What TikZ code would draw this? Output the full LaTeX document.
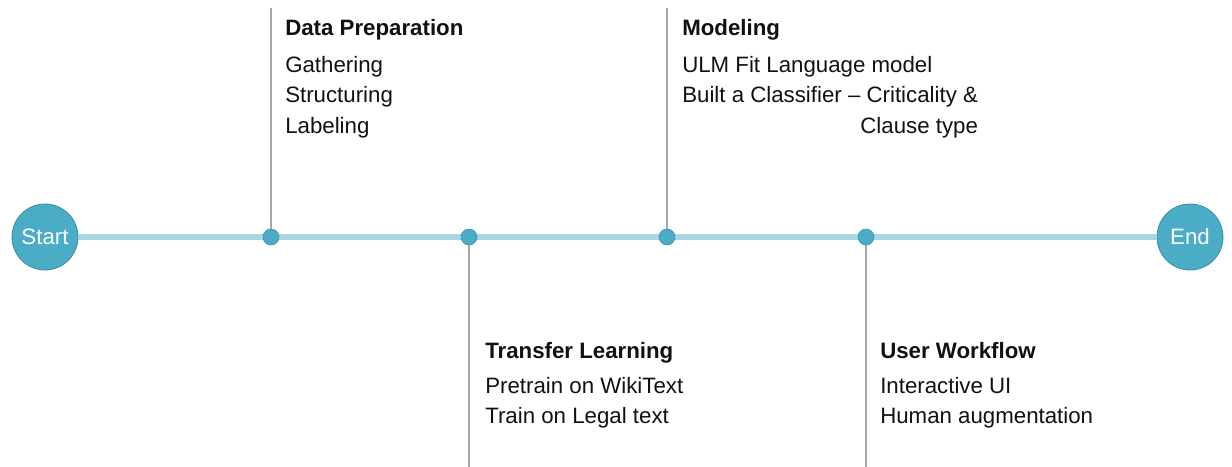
\documentclass[tikz,border=0pt]{standalone}
\usepackage{fontspec}
\setmainfont{Liberation Sans}
\definecolor{teal}{HTML}{4BACC6}
\definecolor{tealdark}{HTML}{3A8DA3}
\definecolor{tline}{HTML}{A9D6E2}
\definecolor{vgray}{HTML}{A6A6A6}
\definecolor{txt}{HTML}{111111}
\begin{document}
\begin{tikzpicture}[x=0.75pt,y=-0.75pt,
  endpt/.style={circle,fill=teal,draw=tealdark,line width=0.6pt,minimum size=49.5pt,inner sep=0pt,text=white,font=\fontsize{16.7}{20}\selectfont},
  dot/.style={circle,fill=teal,draw=tealdark,line width=0.4pt,minimum size=12pt,inner sep=0pt},
  stem/.style={draw=vgray,line width=1pt},
  mainline/.style={draw=tline,line width=3.8pt},
  title/.style={anchor=base west,inner sep=0pt,text=txt,font=\fontsize{16.7}{20}\selectfont\bfseries},
  item/.style={anchor=base west,inner sep=0pt,text=txt,font=\fontsize{16.7}{20}\selectfont},
  itemr/.style={anchor=base east,inner sep=0pt,text=txt,font=\fontsize{16.7}{20}\selectfont}]
\useasboundingbox (0,0) rectangle (1232,467);
% end points and milestone dots
\node[endpt] (start) at (45,237) {Start};
\node[endpt] (end) at (1190,237) {End};
\coordinate (c1) at (271,237);
\coordinate (c2) at (469,237);
\coordinate (c3) at (667,237);
\coordinate (c4) at (866,237);
% stems (behind)
\coordinate (t1) at (271,8);
\coordinate (t3) at (667,8);
\coordinate (b2) at (469,467);
\coordinate (b4) at (866,467);
\draw[stem] (t1) -- (c1);
\draw[stem] (t3) -- (c3);
\draw[stem] (b2) -- (c2);
\draw[stem] (b4) -- (c4);
% main line
\draw[mainline] (start.east) -- (end.west);
\node[dot] (d1) at (c1) {};
\node[dot] (d2) at (c2) {};
\node[dot] (d3) at (c3) {};
\node[dot] (d4) at (c4) {};
% texts
\node[title] (dp) at (285,36) {Data Preparation};
\node[item] (dp1) at (285,73) {Gathering};
\node[item] (dp2) at (285,103) {Structuring};
\node[item] (dp3) at (285,133) {Labeling};
\node[title] (md) at (682,36) {Modeling};
\node[item] (md1) at (682,73) {ULM Fit Language model};
\node[item] (md2) at (682,103) {Built a Classifier – Criticality \&};
\node[itemr] (md3) at (md2.base east |- 0,133) {Clause type};
\node[title] (tl) at (485,358) {Transfer Learning};
\node[item] (tl1) at (485,393) {Pretrain on WikiText};
\node[item] (tl2) at (485,423) {Train on Legal text};
\node[title] (uw) at (880,358) {User Workflow};
\node[item] (uw1) at (880,393) {Interactive UI};
\node[item] (uw2) at (880,423) {Human augmentation};
\end{tikzpicture}
\end{document}
